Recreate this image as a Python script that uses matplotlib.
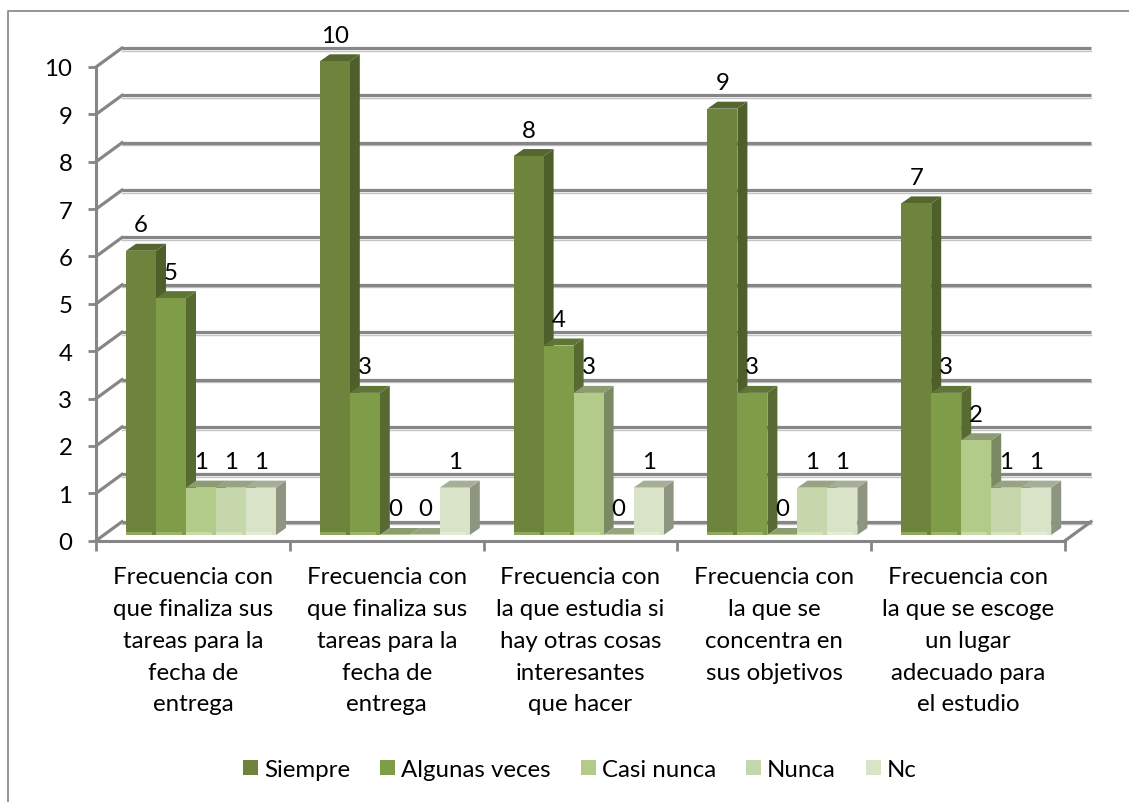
import matplotlib
matplotlib.use("Agg")
import matplotlib.pyplot as plt
from matplotlib.patches import Polygon, Rectangle, Patch
from matplotlib.lines import Line2D

plt.rcParams['font.family'] = ['Lato', 'DejaVu Sans']

categories = [
    "Frecuencia con\nque finaliza sus\ntareas para la\nfecha de\nentrega",
    "Frecuencia con\nque finaliza sus\ntareas para la\nfecha de\nentrega",
    "Frecuencia con\nla que estudia si\nhay otras cosas\ninteresantes\nque hacer",
    "Frecuencia con\nla que se\nconcentra en\nsus objetivos",
    "Frecuencia con\nla que se escoge\nun lugar\nadecuado para\nel estudio",
]
series_names = ["Siempre", "Algunas veces", "Casi nunca", "Nunca", "Nc"]
siempre = [6, 10, 8, 9, 7]
algunas_veces = [5, 3, 4, 3, 3]
casi_nunca = [1, 0, 3, 0, 2]
nunca = [1, 0, 0, 1, 1]
nc = [1, 1, 1, 1, 1]
series_values = [siempre, algunas_veces, casi_nunca, nunca, nc]
y_ticks = list(range(11))

front = ['#6E843D', '#7F9C49', '#B2CB88', '#C7D7AC', '#D9E3C7']
side = ['#4E5F2B', '#566A31', '#7A8A62', '#8B9878', '#8D9580']
top = ['#55672E', '#5F7536', '#8E9C72', '#97A383', '#A6AE97']
strip = ['#8FA860', '#9AB566', '#C8DAA8', '#D6E3BF', '#E4ECD6']

W, H = 1129, 803
X0, X5, Y0, Y10 = 96, 1065, 541.7, 68
ux = (X5 - X0) / 5
uy = (Y0 - Y10) / 10
wall_dx, wall_dy = 26 / ux, 19 / uy
bar_w = 30 / ux
bar_off = 30 / ux
bar_dx, bar_dy = 10 / ux, 7 / uy
floor = 5.7 / uy
grid_c = '#868686'
text_c = '#000000'
FS = 17.3

fig = plt.figure(figsize=(W / 100, H / 100), dpi=100, facecolor='white')
fig.add_artist(Line2D([8 / W, 8 / W, 1], [0, 1 - 12 / H, 1 - 12 / H],
                      transform=fig.transFigure, color='#8C8C8C', lw=1.3))
ax = fig.add_axes([X0 / W, 1 - Y0 / H, (X5 - X0) / W, (Y0 - Y10) / H])
ax.set_xlim(0, 5)
ax.set_ylim(0, 10)
ax.patch.set_alpha(0)
for s in ('top', 'right'):
    ax.spines[s].set_visible(False)
for s in ('left', 'bottom'):
    ax.spines[s].set_color(grid_c)
    ax.spines[s].set_linewidth(2.2)

ax.set_yticks(y_ticks)
ax.set_xticks(range(6))
ax.set_xticklabels([])
ax.set_xticks([i + 0.5 for i in range(5)], minor=True)
ax.set_xticklabels(categories, minor=True, fontsize=FS, color=text_c, linespacing=1.63)
ax.tick_params(axis='y', length=6, width=2, color=grid_c, labelsize=FS, labelcolor=text_c, pad=11)
ax.tick_params(axis='x', which='major', length=7, width=2, color=grid_c)
ax.tick_params(axis='x', which='minor', length=0, pad=18.5)

# back wall and side wall
for v in y_ticks:
    yy = v + wall_dy
    ax.plot([wall_dx, 5 + wall_dx], [yy - 2.6 / uy, yy - 2.6 / uy], color='#C4C4C4', lw=1.0,
            clip_on=False, zorder=1)
    ax.plot([wall_dx, 5 + wall_dx], [yy, yy], color=grid_c, lw=2.3, clip_on=False, zorder=1.1,
            solid_capstyle='butt')
    ax.plot([0, wall_dx], [v, yy], color=grid_c, lw=2.3, clip_on=False, zorder=1.1)
ax.plot([5, 5 + wall_dx], [0, wall_dy], color=grid_c, lw=2.3, clip_on=False, zorder=1.1)

z = 2
for c in range(len(categories)):
    for j, vals in enumerate(series_values):
        v = vals[c]
        x = c + bar_off + j * bar_off
        y0 = floor
        y1 = v + floor
        ax.add_patch(Polygon([(x + bar_w, y0), (x + bar_w + bar_dx, y0 + bar_dy),
                              (x + bar_w + bar_dx, y1 + bar_dy), (x + bar_w, y1)],
                             fc=side[j], ec='none', clip_on=False, zorder=z))
        ax.add_patch(Polygon([(x, y1), (x + bar_dx, y1 + bar_dy),
                              (x + bar_w + bar_dx, y1 + bar_dy), (x + bar_w, y1)],
                             fc=top[j], ec='none', clip_on=False, zorder=z))
        if v > 0:
            ax.add_patch(Rectangle((x, y0), bar_w, v, fc=front[j], ec='none', clip_on=False, zorder=z))
            ax.add_patch(Rectangle((x, y0), bar_w - 4 / ux, 3 / uy, fc=strip[j], ec='none',
                                   clip_on=False, zorder=z))
        else:
            ax.add_patch(Rectangle((x, y0), bar_w, 1.5 / uy, fc=front[j], ec='none', clip_on=False, zorder=z))
        z += 1

for c in range(len(categories)):
    for j, vals in enumerate(series_values):
        v = vals[c]
        x = c + bar_off + j * bar_off
        ax.text(x + bar_w / 2, v + floor + 26 / uy, str(v), ha='center', va='center',
                fontsize=FS, color=text_c, clip_on=False, zorder=200)

handles = [Patch(fc=front[j], ec='none', label=series_names[j]) for j in range(5)]
leg = ax.legend(handles=handles, ncol=5, frameon=False, fontsize=FS,
                loc='center', bbox_to_anchor=(580 / W, 1 - 770.5 / H),
                bbox_transform=fig.transFigure,
                handlelength=0.625, handleheight=0.625, handletextpad=0.25,
                columnspacing=1.25, borderpad=0, borderaxespad=0)

fig.savefig('out.png', dpi=100)
